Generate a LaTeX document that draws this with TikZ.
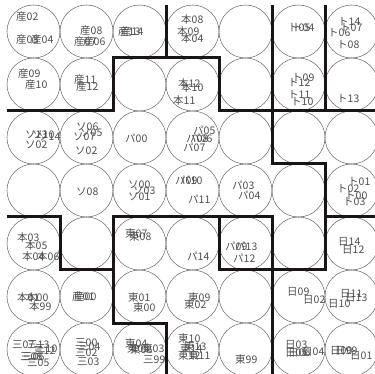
\documentclass[tikz,border=0pt]{standalone}
\usepackage{fontspec}
\newfontfamily\jpfont{Noto Sans CJK JP}
\definecolor{txtgray}{HTML}{505050}
\definecolor{circgray}{HTML}{707070}
\definecolor{wallblack}{HTML}{1A1414}
\newcounter{lc}
\newcommand\lab[3]{\stepcounter{lc}\node[lbl] (t\arabic{lc}) at (#1,#2) {#3};}
\begin{document}
\begin{tikzpicture}[x=1pt,y=-1pt,
  lbl/.style={anchor=west, inner sep=0pt, font=\jpfont\fontsize{10.5}{11}\selectfont, text=txtgray},
  cell/.style={circle, draw=circgray, line width=0.55pt, minimum size=53pt, inner sep=0pt},
  wall/.style={draw=wallblack, line width=3pt, line join=miter}]
\useasboundingbox (0,0) rectangle (375,374);
\clip (0,0) rectangle (375,374);
\fill[white] (0,0) rectangle (375,374);
\foreach \i in {0,...,6}{\foreach \j in {0,...,6}{
  \node[cell] (c-\i-\j) at ({33.5+53*\i},{31.5+53*\j}) {};}}
\foreach \i in {0,...,7}{\foreach \j in {0,...,7}{
  \coordinate (g-\i-\j) at ({7+53*\i},{5+53*\j});}}
% walls
\draw[wall] (g-3-0) -- (g-3-1);
\draw[wall] (g-0-2) -- (g-2-2) -- (g-2-1) -- (g-4-1) -- (g-4-2) -- (g-7-2);
\draw[wall] (g-5-0) -- (g-5-3) -- (g-6-3) -- (g-6-5) -- (g-4-5) -- (g-4-4);
\draw[wall] (g-6-0) -- (g-6-2);
\draw[wall] (g-0-4) -- (g-1-4) -- (g-1-5) -- (g-2-5) -- (g-2-6) -- (g-3-6) -- (g-3-7);
\draw[wall] (g-2-5) -- (g-2-4) -- (g-5-4) -- (g-5-7);
\draw[wall] (g-6-4) -- (g-7-4);
% row 0
\lab{16}{17}{産02}\lab{16}{40}{産03}\lab{31}{40}{産04}
\lab{80}{31}{産08}\lab{74}{42}{産07}\lab{83}{42}{産06}
\lab{118}{32}{産13}\lab{121}{32}{産14}
\lab{181}{20}{本08}\lab{177}{32}{本09}\lab{181}{39}{本04}
\lab{288}{28}{ト05}\lab{292}{28}{ト04}
\lab{338}{22}{ト14}\lab{340}{28}{ト07}\lab{328}{33}{ト06}\lab{337}{45}{ト08}
% row 1
\lab{18}{74}{産09}\lab{25}{85}{産10}
\lab{74}{80}{産11}\lab{76}{87}{産12}
\lab{178}{84}{本12}\lab{181}{88}{本10}\lab{173}{101}{本11}
\lab{292}{78}{ト09}\lab{288}{83}{ト12}\lab{288}{95}{ト11}\lab{291}{102}{ト10}
\lab{337}{99}{ト13}
% row 2
\lab{25}{135}{ソ13}\lab{32}{135}{ソ10}\lab{38}{137}{ソ14}\lab{25}{145}{ソ02}
\lab{76}{127}{ソ06}\lab{73}{137}{ソ07}\lab{80}{133}{ソ05}\lab{75}{151}{ソ02}
\lab{125}{138}{パ00}
\lab{193}{130}{パ05}\lab{186}{138}{パ08}\lab{190}{138}{パ06}\lab{183}{147}{パ07}
% row 3
\lab{76}{192}{ソ08}
\lab{128}{185}{ソ00}\lab{133}{191}{ソ03}\lab{128}{197}{ソ01}
\lab{175}{180}{パ09}\lab{180}{180}{パ10}\lab{188}{199}{パ11}
\lab{232}{185}{パ03}\lab{238}{195}{パ04}
\lab{348}{182}{ト01}\lab{337}{189}{ト02}\lab{345}{196}{ト00}\lab{343}{202}{ト03}
% row 4
\lab{17}{238}{本03}\lab{25}{246}{本05}\lab{22}{257}{本04}\lab{37}{257}{本06}
\lab{125}{234}{東07}\lab{129}{237}{東08}
\lab{187}{256}{パ14}
\lab{225}{246}{パ09}\lab{235}{246}{パ13}\lab{233}{258}{パ12}
\lab{338}{242}{日14}\lab{342}{250}{日12}
% row 5
\lab{17}{298}{本01}\lab{26}{298}{本00}\lab{29}{307}{本99}
\lab{72}{297}{産01}\lab{74}{297}{産00}
\lab{128}{298}{東01}\lab{133}{308}{東00}
\lab{188}{298}{東09}\lab{184}{305}{東02}
\lab{287}{292}{日09}\lab{303}{300}{日02}
\lab{340}{294}{日11}\lab{345}{298}{日13}\lab{328}{304}{日10}
% row 6
\lab{12}{345}{三07}\lab{27}{345}{三13}\lab{35}{349}{三10}\lab{33}{351}{三12}
\lab{20}{357}{三08}\lab{22}{357}{三06}\lab{27}{363}{三05}
\lab{75}{343}{三00}\lab{78}{347}{三04}\lab{75}{353}{三02}\lab{77}{362}{三03}
\lab{125}{344}{東04}\lab{127}{349}{東05}\lab{130}{350}{東06}\lab{142}{349}{東03}\lab{143}{360}{三99}
\lab{178}{339}{東10}\lab{184}{347}{東13}\lab{180}{349}{東14}\lab{178}{356}{東12}\lab{188}{356}{東11}
\lab{235}{360}{東99}
\lab{285}{345}{日03}\lab{285}{353}{日05}\lab{288}{353}{日06}\lab{302}{352}{日04}
\lab{330}{351}{日00}\lab{335}{351}{日99}\lab{350}{356}{日01}
\end{tikzpicture}
\end{document}
